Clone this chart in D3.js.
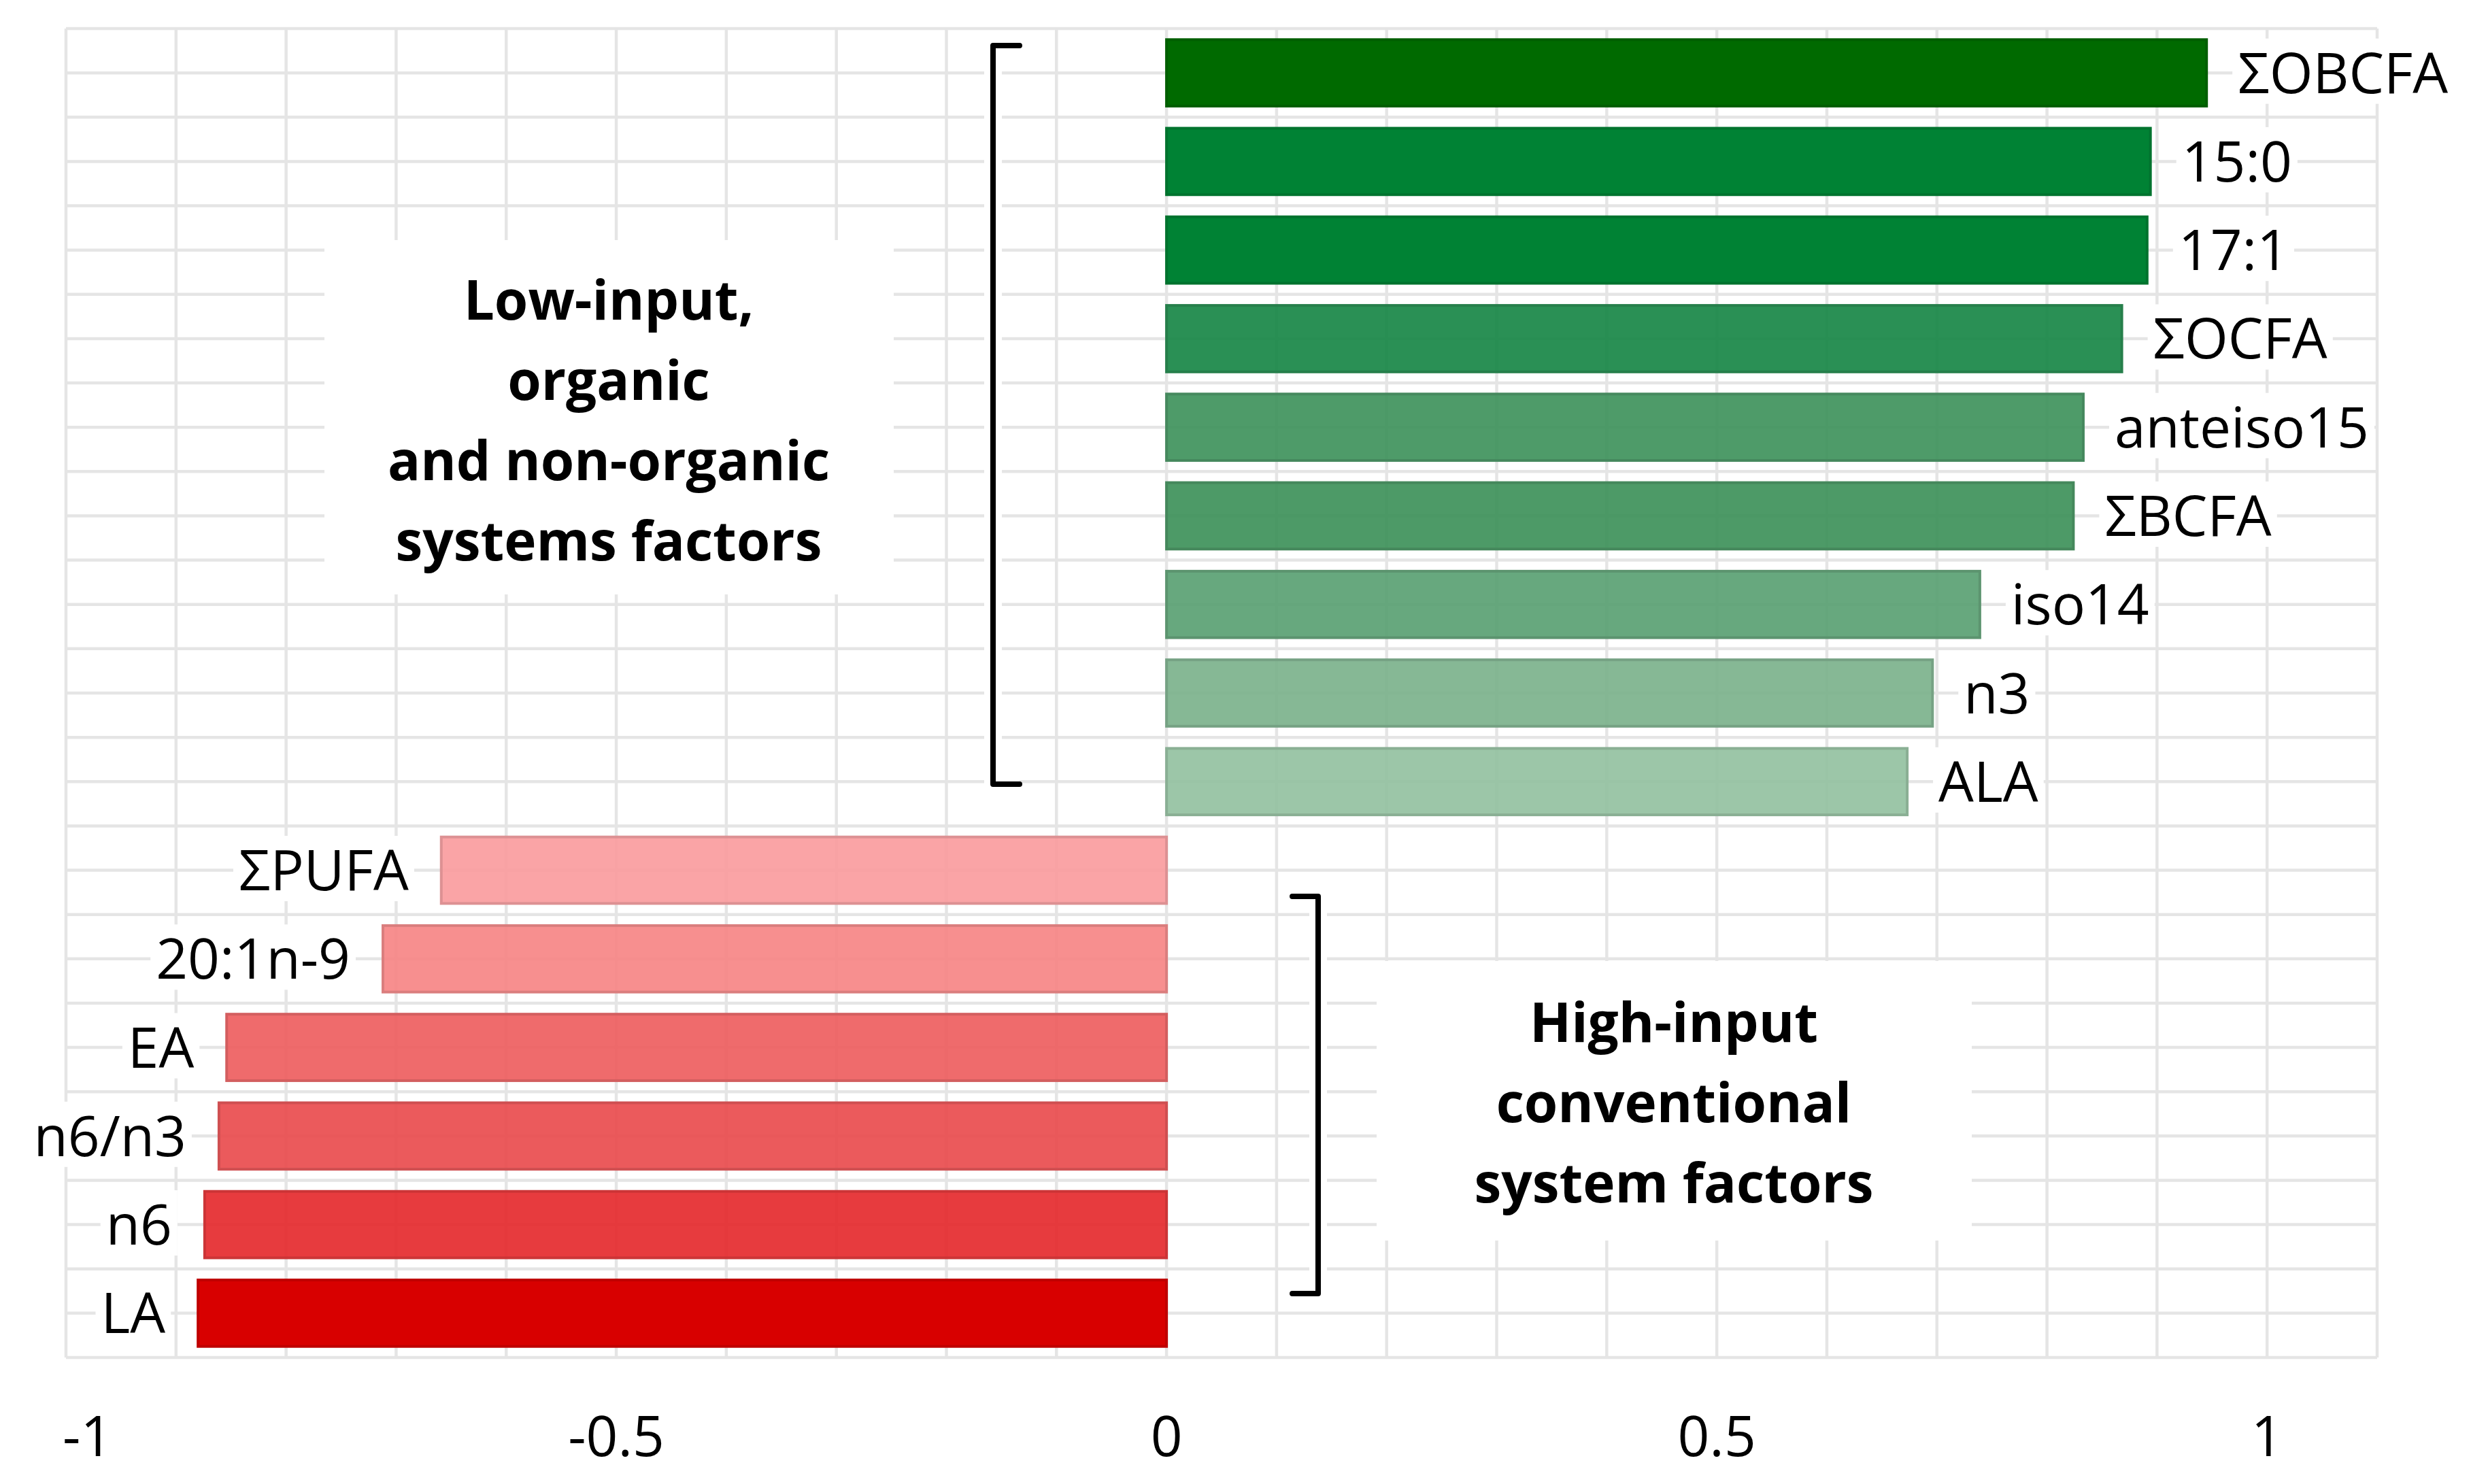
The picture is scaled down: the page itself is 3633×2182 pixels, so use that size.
<!DOCTYPE html>
<html>
<head>
<meta charset="utf-8">
<script src="https://cdn.jsdelivr.net/npm/d3@7/dist/d3.min.js"></script>
<style>
  html, body { margin: 0; padding: 0; background: #ffffff; }
  svg { display: block; }
</style>
</head>
<body>
<svg id="chart" width="3633" height="2182"></svg>
<script>
// ---- data ----
const categories = ["ΣOBCFA","15:0","17:1","ΣOCFA","anteiso15","ΣBCFA","iso14","n3","ALA",
                    "ΣPUFA","20:1n-9","EA","n6/n3","n6","LA"];
const values = [0.945, 0.894, 0.891, 0.868, 0.833, 0.824, 0.739, 0.696, 0.673,
                -0.659, -0.712, -0.854, -0.861, -0.874, -0.880];
const barColors = ["#006a00","#008234","#008234","#2b9055","#4f9b6a","#4e9a68","#68a87e","#86b895","#9cc6a8",
                   "#faa4a6","#f78f8f","#ef6b6c","#eb5a5c","#e73c3e","#d80000"];
const tickValues = [-1, -0.5, 0, 0.5, 1];
const tickLabels = ["-1", "-0.5", "0", "0.5", "1"];
const groupTop = ["Low-input,", "organic", "and non-organic", "systems factors"];
const groupBottom = ["High-input", "conventional", "system factors"];

// ---- layout ----
const svg = d3.select("#chart");
const plot = { left: 97, right: 3495, top: 42, bottom: 1996 };
const x = d3.scaleLinear().domain([-1, 1.1]).range([plot.left, plot.right]);
const y = d3.scaleBand().domain(categories).range([plot.top, plot.bottom])
  .paddingInner(0.25).paddingOuter(0.125);
const step = y.step();
const FONT = "'Open Sans', 'Noto Sans', sans-serif";
const gridColor = "#e5e5e5";

// ---- gridlines ----
const grid = svg.append("g");
const vTicks = d3.range(-10, 12).map(d => d / 10);
grid.selectAll("line.v").data(vTicks).join("line")
  .attr("x1", d => x(d)).attr("x2", d => x(d))
  .attr("y1", plot.top).attr("y2", plot.bottom)
  .attr("stroke", gridColor).attr("stroke-width", 4.5);
const hLines = d3.range(0, categories.length * 2 + 1).map(k => plot.top + k * step / 2);
grid.selectAll("line.h").data(hLines).join("line")
  .attr("x1", plot.left).attr("x2", plot.right)
  .attr("y1", d => d).attr("y2", d => d)
  .attr("stroke", gridColor).attr("stroke-width", 4.5);

// ---- bars (slightly translucent where possible) ----
const baseAlpha = 0.9;
function alphaFor(c) {
  const col = d3.rgb(c);
  const need = Math.max((255 - col.r) / 255, (255 - col.g) / 255, (255 - col.b) / 255);
  return Math.min(1, Math.max(baseAlpha, need));
}
function solidFor(c) {
  const col = d3.rgb(c);
  const a = alphaFor(c);
  const f = v => Math.max(0, Math.min(255, 255 - (255 - v) / a));
  return d3.rgb(f(col.r), f(col.g), f(col.b)).formatHex();
}
const data = categories.map((c, i) => ({ cat: c, v: values[i], color: barColors[i] }));
svg.append("g").selectAll("rect").data(data).join("rect")
  .attr("x", d => x(Math.min(0, d.v)))
  .attr("width", d => Math.abs(x(d.v) - x(0)))
  .attr("y", d => y(d.cat))
  .attr("height", y.bandwidth())
  .attr("fill", d => solidFor(d.color))
  .attr("fill-opacity", d => alphaFor(d.color))
  .attr("stroke", d => d3.color(d.color).darker(0.35).formatHex())
  .attr("stroke-width", 4);

// ---- category labels with white background ----
const labG = svg.append("g");
data.forEach(d => {
  const g = labG.append("g");
  const t = g.append("text")
    .attr("x", d.v >= 0 ? x(d.v) + 46 : x(d.v) - 48)
    .attr("y", y(d.cat) + y.bandwidth() / 2)
    .attr("dy", "0.36em")
    .attr("text-anchor", d.v >= 0 ? "start" : "end")
    .attr("font-family", FONT).attr("font-size", 82)
    .attr("fill", "#000").text(d.cat);
  const bb = t.node().getBBox();
  g.insert("rect", "text")
    .attr("x", bb.x - 8).attr("y", bb.y + 8)
    .attr("width", bb.width + 16).attr("height", bb.height - 16)
    .attr("fill", "#fff");
});

// ---- x axis tick labels ----
svg.append("g").selectAll("text").data(tickValues).join("text")
  .attr("x", (d, i) => i === 0 ? x(d) - 5 : x(d))
  .attr("y", 2141)
  .attr("text-anchor", (d, i) => i === 0 ? "start" : "middle")
  .attr("font-family", FONT).attr("font-size", 82)
  .attr("fill", "#000")
  .text((d, i) => tickLabels[i]);

// ---- annotation boxes ----
svg.append("rect").attr("x", 477).attr("y", 353).attr("width", 1314 - 477).attr("height", 874 - 353).attr("fill", "#fff");
svg.append("rect").attr("x", 2024).attr("y", 1413).attr("width", 2899 - 2024).attr("height", 1824 - 1413).attr("fill", "#fff");

svg.append("g").selectAll("text").data(groupTop).join("text")
  .attr("x", 895).attr("y", (d, i) => 470 + i * 118)
  .attr("text-anchor", "middle")
  .attr("font-family", FONT).attr("font-weight", 700).attr("font-size", 80)
  .attr("fill", "#000").text(d => d);

svg.append("g").selectAll("text").data(groupBottom).join("text")
  .attr("x", 2461).attr("y", (d, i) => 1532 + i * 118)
  .attr("text-anchor", "middle")
  .attr("font-family", FONT).attr("font-weight", 700).attr("font-size", 80)
  .attr("fill", "#000").text(d => d);

// ---- brackets ----
function bracket(xLine, yTop, yBot, tickX) {
  const p = `M${tickX},${yTop} L${xLine},${yTop} L${xLine},${yBot} L${tickX},${yBot}`;
  svg.append("path").attr("d", p).attr("fill", "none")
    .attr("stroke", "#fff").attr("stroke-width", 26).attr("stroke-linejoin", "round");
  svg.append("path").attr("d", p).attr("fill", "none")
    .attr("stroke", "#000").attr("stroke-width", 8)
    .attr("stroke-linejoin", "round").attr("stroke-linecap", "round");
}
bracket(1460, 67, 1153, 1499);
bracket(1938, 1318, 1902, 1900);
</script>
</body>
</html>
